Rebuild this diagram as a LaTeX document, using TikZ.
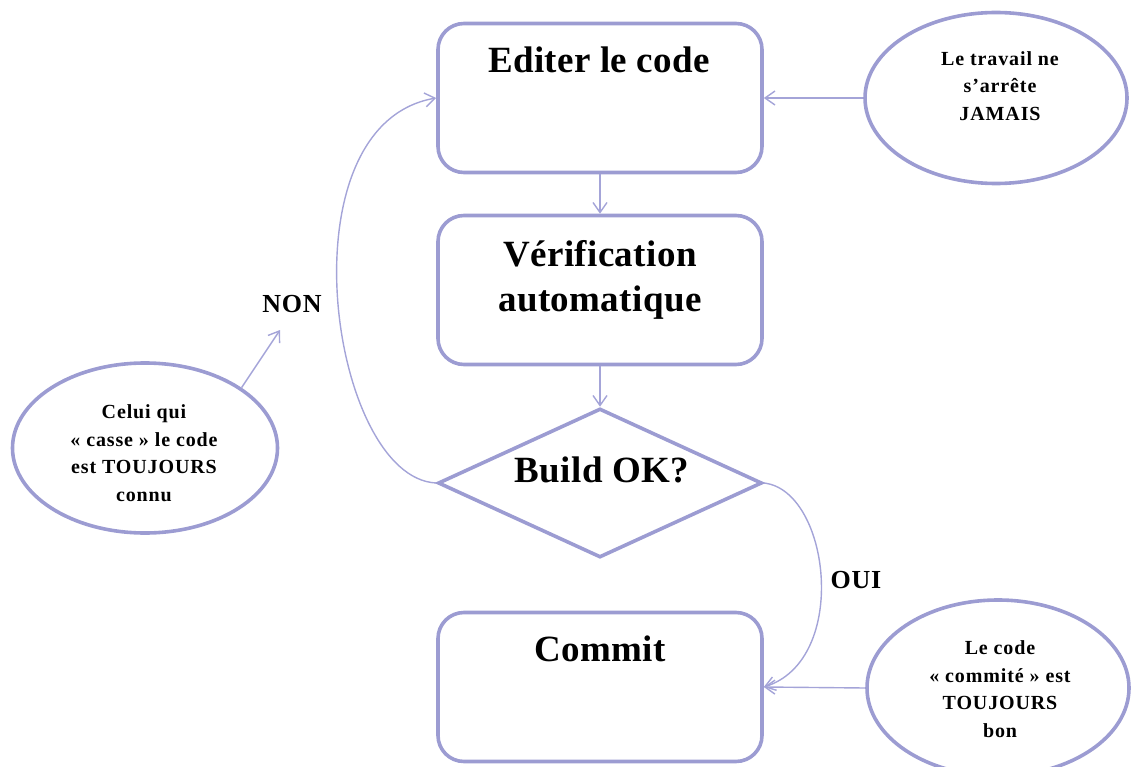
\documentclass[tikz,border=0pt]{standalone}
\usepackage{fontspec}
\setmainfont{Liberation Serif}
\newfontfamily\titlefont[LetterSpace=1]{Liberation Serif}
\newfontfamily\notefont[LetterSpace=4.4]{Liberation Serif}
\newfontfamily\tagfont[LetterSpace=3]{Liberation Serif}
\usetikzlibrary{shapes.geometric,arrows.meta}
\definecolor{frame}{RGB}{156,156,210}
\definecolor{link}{RGB}{164,164,216}
\tikzset{
  stepbox/.style={draw=frame, line width=3.6pt, rounded corners=26pt,
    minimum width=324pt, minimum height=149pt, inner sep=0pt},
  decision/.style={draw=frame, line width=3.6pt, diamond, aspect=2.17,
    minimum width=324pt, minimum height=149pt, inner sep=0pt},
  bubble/.style={draw=frame, line width=3.6pt, ellipse, inner sep=0pt},
  title/.style={font=\titlefont\fontsize{37}{45}\selectfont\bfseries, align=center, inner sep=0pt},
  note/.style={font=\notefont\fontsize{20}{27.5}\selectfont\bfseries, align=center, inner sep=0pt},
  tag/.style={font=\tagfont\fontsize{26}{30}\selectfont\bfseries, inner sep=0pt},
  flow/.style={draw=link, line width=1.4pt, -{Straight Barb[length=10pt,width=14pt]}},
}
\begin{document}
\begin{tikzpicture}[x=1pt,y=-1pt]
  \useasboundingbox (0,0) rectangle (1131,767);

  % process boxes
  \node[stepbox] (edit) at (600,98) {};
  \node[stepbox] (check) at (600,290) {};
  \node[decision] (build) at (600,483) {};
  \node[stepbox] (commit) at (600,687) {};

  \node[title, anchor=base] (edit-t) at (599,73) {Editer le code};
  \node[title] (check-t) at (600,280) {Vérification\\automatique};
  \node[title, anchor=base] (build-t) at (602,482) {Build OK?};
  \node[title, anchor=base] (commit-t) at (600,661) {Commit};

  % side notes
  \node[bubble, minimum width=262pt, minimum height=171pt] (never) at (996,98) {};
  \node[note] (never-t) at (1000,86) {Le travail ne\\s’arrête\\JAMAIS};
  \node[bubble, minimum width=265pt, minimum height=170pt] (broken) at (145,448) {};
  \node[note] (broken-t) at (144,453) {Celui qui\\« casse » le code\\est TOUJOURS\\connu};
  \node[bubble, minimum width=262pt, minimum height=176pt] (good) at (998,688) {};
  \node[note] (good-t) at (1000,689) {Le code\\« commité » est\\TOUJOURS\\bon};

  % labels
  \node[tag, anchor=base] (non) at (292,312) {NON};
  \node[tag, anchor=base] (oui) at (856,588) {OUI};
  \coordinate (non-tip) at (280,330);

  % connectors
  \draw[flow] (edit) -- (check);
  \draw[flow] (check) -- (build);
  \draw[flow] (never.west) -- (edit.east);
  \draw[flow] (good.west) -- (commit.east);
  \draw[flow] (broken.32) -- (non-tip);
  \draw[flow] (build.west) .. controls (330,478) and (280,125) .. (edit.west);
  \draw[flow] (build.east) .. controls (830,490) and (850,660) .. (commit.east);
\end{tikzpicture}
\end{document}
